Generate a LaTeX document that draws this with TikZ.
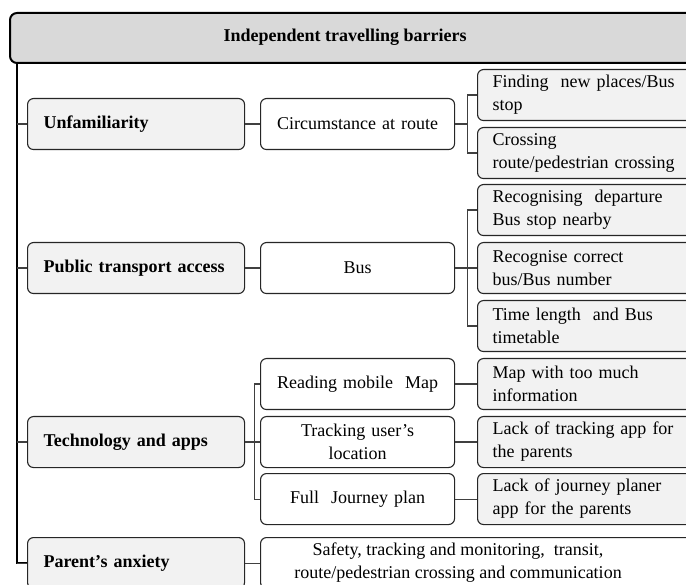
\documentclass[tikz,border=0pt]{standalone}
\usepackage{fontspec}
\setmainfont{Liberation Serif}
\begin{document}
\begin{tikzpicture}[x=1pt,y=-1pt,
  txt/.style={font=\fontsize{18}{23}\selectfont},
  base/.style={txt, draw=black!85, line width=1.1pt, rounded corners=6pt,
    minimum height=51pt, inner sep=0pt, anchor=north west},
  headbox/.style={draw=black, line width=2pt, rounded corners=7pt, fill=gray!30,
    minimum width=720pt, minimum height=50pt, inner sep=0pt, anchor=north west},
  catbox/.style={base, fill=black!5, minimum width=217pt, text width=185pt,
    align=left, font=\fontsize{18}{23}\selectfont\bfseries},
  midbox/.style={base, fill=white, minimum width=194pt, text width=180pt, align=center},
  leafbox/.style={base, fill=black!5, minimum width=250pt, text width=220pt, align=left},
  widebox/.style={base, fill=white, minimum width=480pt},
  link/.style={draw=black!75, line width=1.1pt},
  trunkline/.style={draw=black, line width=2pt}]

\useasboundingbox (0,0) rectangle (686,585);
\clip (0,0) rectangle (686,585);

% heading
\node[headbox] (title) at (9,12) {};
\node[txt, font=\fontsize{18}{23}\selectfont\bfseries] (titletext) at (345,37) {Independent travelling barriers};

% first level
\node[catbox] (unf) at (27,98) {Unfamiliarity};
\node[catbox] (pta) at (27,242) {Public transport access};
\node[catbox] (tech) at (27,416) {Technology and apps};
\node[catbox] (par) at (27,537) {Parent’s anxiety};

% second level
\node[midbox] (circ) at (260,98) {Circumstance at route};
\node[midbox] (bus) at (260,242) {Bus};
\node[midbox] (map) at (260,358) {Reading mobile\ \ Map};
\node[midbox] (track) at (260,416) {Tracking user’s\\location};
\node[midbox] (plan) at (260,473) {Full\ \ Journey plan};
\node[widebox] (safe) at (260,537) {};
\node[txt, align=center] (safetext) at (458,563)
  {Safety, tracking and monitoring,\ \ transit,\\route/pedestrian crossing and communication};

% third level
\node[leafbox] (f1) at (477,69) {Finding\ \ new places/Bus\\stop};
\node[leafbox] (f2) at (477,127) {Crossing\\route/pedestrian crossing};
\node[leafbox] (b1) at (477,184) {Recognising\ \ departure\\Bus stop nearby};
\node[leafbox] (b2) at (477,242) {Recognise correct\\bus/Bus number};
\node[leafbox] (b3) at (477,300) {Time length\ \ and Bus\\timetable};
\node[leafbox] (t1) at (477,358) {Map with too much\\information};
\node[leafbox] (t2) at (477,416) {Lack of tracking app for\\the parents};
\node[leafbox] (t3) at (477,473) {Lack of journey planer\\app for the parents};

% trunk from the heading
\coordinate (top) at (16.5,62);
\draw[trunkline] (top) |- (par.west);
\foreach \n in {unf,pta,tech,par}
  \draw[link] (top |- \n.west) -- (\n.west);

% first to second level
\draw[link] (unf.east) -- (circ.west);
\draw[link] (pta.east) -- (bus.west);
\draw[link] (par.east) -- (safe.west);
\foreach \n in {map,track,plan}
  \draw[link] (tech.east) -- ++(9,0) |- (\n.west);

% second to third level
\foreach \n in {f1,f2}
  \draw[link] (circ.east) -- ++(12,0) |- (\n.west);
\foreach \n in {b1,b2,b3}
  \draw[link] (bus.east) -- ++(12,0) |- (\n.west);
\draw[link] (map.east) -- (t1.west);
\draw[link] (track.east) -- (t2.west);
\draw[link] (plan.east) -- (t3.west);
\end{tikzpicture}
\end{document}
